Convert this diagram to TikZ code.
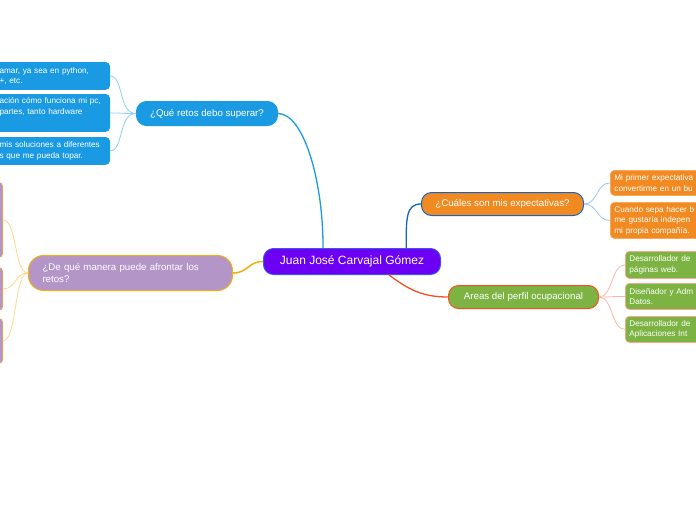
\documentclass[tikz,border=0pt]{standalone}
\usepackage{fontspec}
\setmainfont{Liberation Sans}
\usetikzlibrary{positioning}

\definecolor{violetmain}{HTML}{6C00F5}
\definecolor{violetedge}{HTML}{3F55E8}
\definecolor{retosblue}{HTML}{1B9AE4}
\definecolor{retosline}{HTML}{8CCFF3}
\definecolor{lilac}{HTML}{B395C8}
\definecolor{goldedge}{HTML}{F5AE12}
\definecolor{goldline}{HTML}{FFD88A}
\definecolor{exporange}{HTML}{F28A22}
\definecolor{expedge}{HTML}{1763C2}
\definecolor{expleaf}{HTML}{F7A85E}
\definecolor{expline}{HTML}{9EC4EE}
\definecolor{areagreen}{HTML}{7CB342}
\definecolor{areaedge}{HTML}{F4511E}
\definecolor{arealeaf}{HTML}{F8A98B}
\definecolor{arealine}{HTML}{FBB7A2}

\tikzset{
  leaf/.style={rounded corners=4pt, text=white, align=left, inner xsep=4pt, inner ysep=0pt,
    line width=0.8pt, font=\fontsize{8.2}{10.5}\selectfont},
  branch/.style={rounded corners=10pt, text=white, inner sep=0pt, anchor=north west,
    line width=1pt, font=\fontsize{9.7}{12}\selectfont},
  twig/.style={line width=0.8pt},
}

\begin{document}
\begin{tikzpicture}[x=1pt,y=-1pt]
\useasboundingbox (0,0) rectangle (696,520);
\clip (0,0) rectangle (696,520);

% centre
\node[fill=violetmain, draw=violetedge, line width=1pt, rounded corners=10pt, text=white,
  anchor=north west, minimum width=177pt, minimum height=26pt, inner sep=0pt,
  font=\fontsize{12}{14}\selectfont] (juan) at (263,248) {Juan José Carvajal Gómez};

% retos
\node[branch, fill=retosblue, draw=retosblue, minimum width=141pt, minimum height=24pt]
  (retos) at (136,101) {¿Qué retos debo superar?};
\node[leaf, fill=retosblue, draw=retosblue, anchor=north east, text width=106pt, minimum height=27pt]
  (retos1) at (110,62) {amar, ya sea en python,\\+, etc.};
\node[leaf, fill=retosblue, draw=retosblue, anchor=north east, text width=106pt, minimum height=37pt]
  (retos2) at (110,94) {ación cómo funciona mi pc,\\partes, tanto hardware\\\strut};
\node[leaf, fill=retosblue, draw=retosblue, anchor=north east, text width=106pt, minimum height=27pt]
  (retos3) at (110,137) {mis soluciones a diferentes\\s que me pueda topar.};

% afrontar
\node[branch, fill=lilac, draw=goldedge, rounded corners=15pt, align=left, text width=176pt,
  inner xsep=14pt, minimum height=35pt]
  (afrontar) at (28,255) {¿De qué manera puede afrontar los\\retos?};
\node[leaf, fill=lilac, draw=goldedge!60!lilac, anchor=north east, minimum width=60pt, minimum height=75pt]
  (afrontar1) at (3,182) {};
\node[leaf, fill=lilac, draw=goldedge!60!lilac, anchor=north east, minimum width=60pt, minimum height=43pt]
  (afrontar2) at (3,267) {};
\node[leaf, fill=lilac, draw=goldedge!60!lilac, anchor=north east, minimum width=60pt, minimum height=45pt]
  (afrontar3) at (3,318) {};

% expectativas
\node[branch, fill=exporange, draw=expedge, minimum width=162pt, minimum height=23pt]
  (expect) at (421,192) {¿Cuáles son mis expectativas?};
\node[leaf, fill=exporange, draw=expleaf, anchor=north west, text width=130pt, minimum height=25pt]
  (expect1) at (610,170) {Mi primer expectativa\\convertirme en un bu};
\node[leaf, fill=exporange, draw=expleaf, anchor=north west, text width=130pt, minimum height=36pt]
  (expect2) at (610,202) {Cuando sepa hacer b\\me gustaría indepen\\mi propia compañía.};

% areas
\node[branch, fill=areagreen, draw=areaedge, minimum width=150pt, minimum height=23pt]
  (areas) at (448,285) {Areas del perfil ocupacional};
\node[leaf, fill=areagreen, draw=arealeaf, anchor=north west, text width=120pt, minimum height=27pt]
  (areas1) at (625,251) {Desarrollador de\\páginas web.};
\node[leaf, fill=areagreen, draw=arealeaf, anchor=north west, text width=120pt, minimum height=26pt]
  (areas2) at (625,283) {Diseñador y Adm\\Datos.};
\node[leaf, fill=areagreen, draw=arealeaf, anchor=north west, text width=120pt, minimum height=26pt]
  (areas3) at (625,316) {Desarrollador de\\Aplicaciones Int};

% main branches
\draw[retosblue, line width=1.3pt] (juan.155) .. controls +(0,-70) and +(25,0) .. (retos.east);
\draw[goldedge, line width=1.5pt] (juan.west) .. controls +(-15,0) and +(15,0) .. (afrontar.east);
\draw[expedge, line width=1.3pt] (juan.14) .. controls +(0,-30) and +(-15,0) .. (expect.west);
\draw[areaedge, line width=1.3pt] (juan.340) .. controls +(20,15) and +(-25,0) .. (areas.west);

% twigs
\foreach \n in {retos1,retos2,retos3}
  \draw[twig, retosline] (retos.west) .. controls +(-18,0) and +(14,0) .. (\n.east);
\foreach \n in {afrontar1,afrontar2,afrontar3}
  \draw[twig, goldline] (afrontar.west) .. controls +(-14,0) and +(14,0) .. (\n.east);
\foreach \n in {expect1,expect2}
  \draw[twig, expline] (expect.east) .. controls +(14,0) and +(-14,0) .. (\n.west);
\foreach \n in {areas1,areas2,areas3}
  \draw[twig, arealine] (areas.east) .. controls +(14,0) and +(-14,0) .. (\n.west);
\end{tikzpicture}
\end{document}
